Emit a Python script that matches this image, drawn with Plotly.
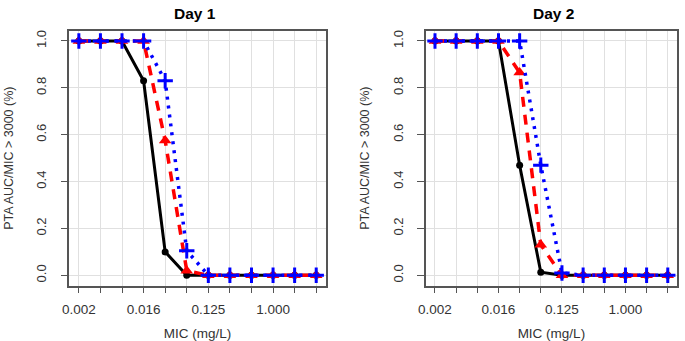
import math
import plotly.graph_objects as go

W, H = 685, 341

# MIC values (mg/L), log2 dilution series
mic = [0.001953125, 0.00390625, 0.0078125, 0.015625, 0.03125, 0.0625,
       0.125, 0.25, 0.5, 1.0, 2.0, 4.0]
tick_text = ["0.002", "", "", "0.016", "", "", "0.125", "", "", "1.000", "", ""]
y_ticks = [0.0, 0.2, 0.4, 0.6, 0.8, 1.0]
y_tick_text = ["0.0", "0.2", "0.4", "0.6", "0.8", "1.0"]

# Day 1 PTA
day1_black = [1.0, 1.0, 1.0, 0.83, 0.10, 0.0, 0.0, 0.0, 0.0, 0.0, 0.0, 0.0]
day1_red = [1.0, 1.0, 1.0, 1.0, 0.575, 0.02, 0.0, 0.0, 0.0, 0.0, 0.0, 0.0]
day1_blue = [1.0, 1.0, 1.0, 1.0, 0.83, 0.105, 0.0, 0.0, 0.0, 0.0, 0.0, 0.0]

# Day 2 PTA
day2_black = [1.0, 1.0, 1.0, 1.0, 0.47, 0.013, 0.0, 0.0, 0.0, 0.0, 0.0, 0.0]
day2_red = [1.0, 1.0, 1.0, 1.0, 0.865, 0.13, 0.0, 0.0, 0.0, 0.0, 0.0, 0.0]
day2_blue = [1.0, 1.0, 1.0, 1.0, 1.0, 0.47, 0.01, 0.0, 0.0, 0.0, 0.0, 0.0]

titles = ["Day 1", "Day 2"]

fig = go.Figure()

FONT = "Liberation Sans, Arial, sans-serif"


def add_series(xa, ya, black, red, blue):
    fig.add_trace(go.Scatter(x=mic, y=black, mode="lines+markers", xaxis=xa, yaxis=ya,
                             line=dict(color="black", width=3),
                             marker=dict(symbol="circle", size=7, color="black"),
                             showlegend=False))
    fig.add_trace(go.Scatter(x=mic, y=red, mode="lines+markers", xaxis=xa, yaxis=ya,
                             line=dict(color="red", width=3.5, dash="10px,8px"),
                             marker=dict(symbol="triangle-up", size=11, color="red"),
                             showlegend=False))
    fig.add_trace(go.Scatter(x=mic, y=blue, mode="lines+markers", xaxis=xa, yaxis=ya,
                             line=dict(color="blue", width=3.5, dash="3px,6px"),
                             marker=dict(symbol="cross-thin", size=11,
                                         line=dict(color="blue", width=3)),
                             showlegend=False))


add_series("x", "y", day1_black, day1_red, day1_blue)
add_series("x2", "y2", day2_black, day2_red, day2_blue)

l2 = math.log10(2)
xr = [l2 * (-9 - 0.44), l2 * (2 + 0.44)]
yr = [-0.044, 1.044]

ydom = [1 - 288 / H, 1 - 30 / H]
xdoms = [[63 / W, 322 / W], [423 / W, 677 / W]]

axis_common_x = dict(type="log", range=xr, tickmode="array", tickvals=mic, ticktext=tick_text,
                     showgrid=True, gridcolor="#e0e0e0", gridwidth=1.2,
                     showline=True, linecolor="#555555", linewidth=1.5, mirror=True,
                     ticks="outside", ticklen=6, tickcolor="#555555", tickwidth=1.2,
                     ticklabelstandoff=4,
                     tickfont=dict(family=FONT, size=13.5, color="#333333"),
                     zeroline=False,
                     title=dict(text="MIC (mg/L)", font=dict(family=FONT, size=13.5, color="#333333"),
                                standoff=15))
axis_common_y = dict(range=yr, tickmode="array", tickvals=y_ticks, ticktext=y_tick_text,
                     showgrid=True, gridcolor="#e0e0e0", gridwidth=1.2,
                     showline=True, linecolor="#555555", linewidth=1.5, mirror=True,
                     ticks="outside", ticklen=7, tickcolor="#555555", tickwidth=1.2,
                     tickangle=-90, ticklabelstandoff=9,
                     tickfont=dict(family=FONT, size=13, color="#333333"),
                     zeroline=False,
                     title=dict(text="PTA AUC/MIC > 3000 (%)",
                                font=dict(family=FONT, size=12.5, color="#333333"),
                                standoff=18))

fig.update_layout(
    width=W, height=H,
    margin=dict(l=0, r=0, t=0, b=0),
    paper_bgcolor="white", plot_bgcolor="white",
    xaxis=dict(domain=xdoms[0], anchor="y", **axis_common_x),
    yaxis=dict(domain=ydom, anchor="x", **axis_common_y),
    xaxis2=dict(domain=xdoms[1], anchor="y2", **axis_common_x),
    yaxis2=dict(domain=ydom, anchor="x2", **axis_common_y),
)

centers = [190, 552]
for t, cx in zip(titles, centers):
    fig.add_annotation(text="<b>" + t + "</b>", x=cx / W, y=1 - 13 / H, xref="paper", yref="paper",
                       showarrow=False, xanchor="center", yanchor="middle",
                       font=dict(family=FONT, size=15.5, color="black"))

fig.write_html("out.html", config={"displayModeBar": False},
               post_script="document.body.style.margin='0px';document.body.style.padding='0px';")
